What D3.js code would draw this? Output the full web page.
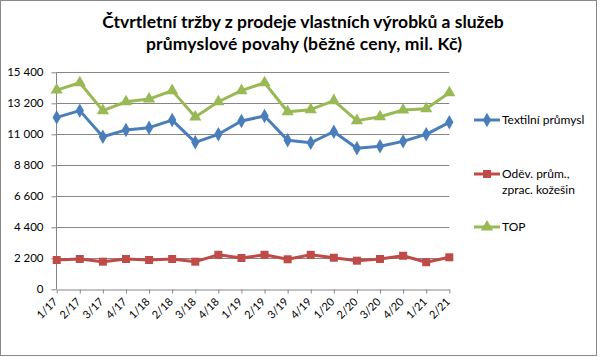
<!DOCTYPE html>
<html><head><meta charset="utf-8">
<script src="https://cdn.jsdelivr.net/npm/d3@7"></script>
<style>body{margin:0;background:#fff}svg{display:block}text{font-family:Lato,"Open Sans",sans-serif}</style>
</head><body>
<svg id="c" width="600" height="357"></svg>
<script>
const categories=["1/17","2/17","3/17","4/17","1/18","2/18","3/18","4/18","1/19","2/19","3/19","4/19","1/20","2/20","3/20","4/20","1/21","2/21"];
const textil=[12200,12680,10830,11310,11470,12010,10430,11000,11940,12300,10575,10400,11185,10010,10150,10500,11000,11850];
const odev=[2080,2150,1960,2150,2080,2150,1960,2450,2220,2450,2130,2450,2240,2030,2150,2380,1920,2270];
const top_=[14140,14660,12680,13310,13500,14100,12230,13310,14100,14660,12600,12750,13390,11970,12250,12720,12820,13950];
const yTicks=[0,2200,4400,6600,8800,11000,13200,15400];
const seriesNames=["Textilní průmysl","Oděv. prům., zprac. kožešin","TOP"];

const svg=d3.select("#c");
svg.append("rect").attr("x",0.5).attr("y",0.5).attr("width",596).attr("height",355).attr("fill","#fff").attr("stroke","#898989");

const x=d3.scalePoint().domain(categories).range([56.7,449.3]);
const y=d3.scaleLinear().domain([0,15400]).range([289.3,72.3]);
const fmt=v=>d3.format(",")(v).replace(/,/g," ");

// gridlines
svg.append("g").selectAll("line").data(yTicks.slice(1)).join("line")
  .attr("x1",56.7).attr("x2",449.3).attr("y1",d=>Math.round(y(d))+0.5).attr("y2",d=>Math.round(y(d))+0.5)
  .attr("stroke","#868686").attr("stroke-width",1);

const ya=svg.append("g").attr("transform","translate(56.5,0)")
  .call(d3.axisLeft(y).tickValues(yTicks).tickSize(5).tickPadding(8).tickFormat(fmt));
ya.select(".domain").attr("stroke","#868686").attr("d","M0,"+y(15400)+"V"+y(0));
ya.selectAll(".tick line").attr("stroke","#868686");
ya.selectAll("text").attr("font-size",11.5).attr("fill","#000").attr("font-family","Lato");

const xa=svg.append("g").attr("transform","translate(0,"+(Math.round(y(0))+0.5)+")")
  .call(d3.axisBottom(x).tickSize(4).tickSizeOuter(0));
xa.select(".domain").attr("stroke","#868686");
xa.selectAll(".tick line").attr("stroke","#868686");
xa.selectAll("text").attr("font-size",11).attr("fill","#000").attr("font-family","Lato")
  .attr("text-anchor","end").attr("dy",0).attr("y",0)
  .attr("transform","translate(1,13) rotate(-45)");

const colors=["#4A7EBB","#BE4B48","#98B954"];
const data=[textil,odev,top_];
const symbols=[d3.symbolDiamond,d3.symbolSquare,d3.symbolTriangle];
const sizes=[60,64,64];
const line=d3.line().x((d,i)=>x(categories[i])).y(d=>y(d));
data.forEach((s,k)=>{
  svg.append("path").datum(s).attr("d",line).attr("fill","none").attr("stroke",colors[k]).attr("stroke-width",3).attr("stroke-linejoin","round");
  svg.append("g").selectAll("path").data(s).join("path")
    .attr("transform",(d,i)=>"translate("+x(categories[i])+","+y(d)+")")
    .attr("d",d3.symbol().type(symbols[k]).size(sizes[k])).attr("fill",colors[k]);
});

// title: one font size fitted to line 1 width, line 2 spacing-adjusted to its width
const t1=svg.append("text").attr("x",303).attr("y",28).attr("text-anchor","middle").attr("font-weight","bold").attr("font-size",16).attr("fill","#000")
  .text("Čtvrtletní tržby z prodeje vlastních výrobků a služeb");
const fs=16*402/t1.node().getComputedTextLength();
t1.attr("font-size",fs);
const t2=svg.append("text").attr("x",304).attr("y",50).attr("text-anchor","middle").attr("font-weight","bold").attr("font-size",fs).attr("fill","#000")
  .text("průmyslové povahy (běžné ceny, mil. Kč)");
if(t2.node().getComputedTextLength()<316) t2.attr("textLength",316).attr("lengthAdjust","spacing");

// legend
const ly=[120,174,227];
const lg=svg.append("g");
data.forEach((s,k)=>{
  lg.append("line").attr("x1",474).attr("x2",500).attr("y1",ly[k]).attr("y2",ly[k]).attr("stroke",colors[k]).attr("stroke-width",3);
  lg.append("path").attr("transform","translate(487,"+ly[k]+")").attr("d",d3.symbol().type(symbols[k]).size(sizes[k])).attr("fill",colors[k]);
});
const lt=[["Textilní průmysl"],["Oděv. prům.,","zprac. kožešin"],["TOP"]];
lt.forEach((lines,k)=>{
  const tx=lg.append("text").attr("font-size",12).attr("fill","#000");
  lines.forEach((l,j)=>tx.append("tspan").attr("x",502).attr("y",ly[k]+4+j*16).text(l));
});
</script>
</body></html>
